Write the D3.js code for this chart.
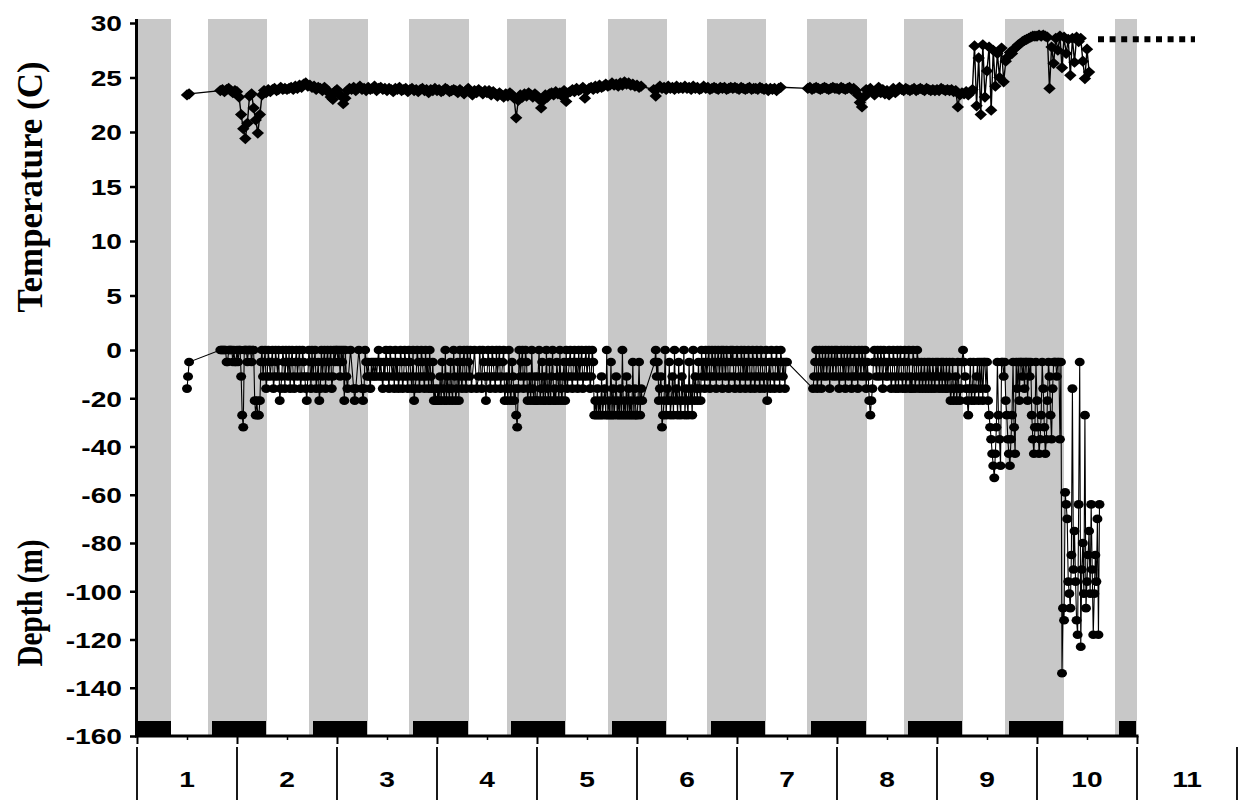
<!DOCTYPE html>
<html>
<head>
<meta charset="utf-8">
<script src="https://cdn.jsdelivr.net/npm/d3@7"></script>
<style>
  body { margin: 0; background: #fff; }
  svg { display: block; }
</style>
</head>
<body>
<svg id="chart" width="1239" height="802"></svg>
<script>
// Day labels under the time axis (day 11 sits past the end of the record)
const dayLabels = ["1", "2", "3", "4", "5", "6", "7", "8", "9", "10", "11"];

// Night periods (days from the start of day 1)
const nightStart = [0.00, 0.71, 1.72, 2.72, 3.70, 4.71, 5.70, 6.70, 7.67, 8.68, 9.78];
const nightEnd   = [0.34, 1.30, 2.31, 3.32, 4.29, 5.30, 6.29, 7.30, 8.26, 9.27, 10.00];

// Axis tick values
const tempTicks = [0, 5, 10, 15, 20, 25, 30];
const depthTicks = [-20, -40, -60, -80, -100, -120, -140, -160];

// Both records start at day 0.5; null = no sample stored
const recordStart = 0.5;
const tempStep = 1 / 48;   // temperature every 30 min
const depthStep = 1 / 96;  // depth every 15 min

// Water temperature (C), one row per half day
const temperature = [
  23.4,23.5,null,null,null,null,null,null,null,null,null,null,null,null,null,null,23.8,23.9,23.7,23.9,24.0,23.8,23.6,23.8,
  23.7,23.2,21.6,20.3,19.4,20.8,23.3,23.5,22.2,21.1,19.9,21.6,23.4,23.8,23.6,23.9,23.7,23.9,24.0,23.8,23.9,24.1,23.9,24.0,
  23.9,24.0,24.1,23.9,24.2,24.0,24.3,24.1,24.4,24.5,24.2,24.3,24.1,24.2,23.9,24.1,24.0,23.8,24.1,23.9,23.6,23.2,23.0,23.7,
  23.9,23.5,23.3,22.6,23.1,23.8,24.0,23.9,24.1,23.8,24.0,24.2,23.9,24.0,23.8,24.1,23.9,24.0,24.2,23.8,24.0,24.1,23.9,24.0,
  23.8,24.0,23.9,23.7,24.0,23.9,24.1,23.8,23.9,24.0,23.7,23.9,24.0,23.8,23.9,23.7,23.9,24.0,23.8,23.9,23.6,23.9,23.8,24.0,
  23.8,23.9,23.7,23.8,24.0,23.9,23.7,23.8,23.9,23.8,23.6,23.9,23.7,23.5,23.8,24.0,23.7,23.4,23.8,23.6,23.9,23.7,23.5,23.8,
  23.6,23.8,23.4,23.7,23.5,23.3,23.6,23.4,23.2,23.5,23.3,23.6,23.4,23.1,21.3,22.9,23.4,23.2,23.5,23.3,23.6,23.4,23.2,23.5,
  23.3,23.0,22.2,22.9,23.4,23.2,23.5,23.6,23.4,23.7,23.5,23.6,23.3,23.8,22.8,23.6,23.7,23.9,23.7,24.0,23.8,23.9,24.1,23.1,
  23.8,24.0,24.1,23.9,24.2,24.0,24.3,24.1,24.2,24.4,24.2,24.3,24.5,24.3,24.4,24.2,24.5,24.3,24.6,24.4,24.5,24.3,24.4,24.2,
  24.3,24.1,24.2,null,null,null,null,null,23.9,23.3,24.0,24.2,24.0,24.1,23.9,24.2,24.0,24.1,23.9,24.2,24.0,24.1,24.0,24.2,
  24.0,24.1,23.9,24.2,24.0,24.1,23.9,24.0,24.2,24.0,24.1,23.9,24.0,24.1,24.0,23.9,24.1,24.0,24.1,23.9,24.0,24.1,24.0,24.1,
  24.0,23.9,24.1,24.0,23.9,24.0,24.1,23.9,24.0,24.0,23.9,24.1,24.0,23.9,24.0,23.8,24.0,23.9,24.0,23.8,24.0,24.1,null,null,
  null,null,null,null,null,null,null,null,null,null,24.0,24.1,23.9,24.0,24.1,24.0,23.9,24.0,24.1,24.0,23.9,24.0,24.1,24.0,
  24.0,23.9,24.1,24.0,23.9,24.0,24.1,23.9,24.0,23.8,23.4,22.7,22.3,23.2,23.9,23.6,24.0,23.7,23.4,23.8,24.1,23.6,23.9,23.5,
  23.8,23.4,23.7,24.0,23.6,23.8,24.1,23.9,23.8,24.0,23.9,23.8,23.9,24.0,23.8,23.9,24.0,23.9,23.8,24.0,23.9,23.8,23.9,23.8,
  23.9,23.8,24.0,23.9,23.8,23.9,23.8,23.9,23.7,23.8,22.3,23.4,23.6,23.5,23.7,23.4,23.6,23.9,27.9,22.4,26.8,21.6,28.0,23.2,
  25.6,27.8,22.0,27.5,24.2,27.2,25.0,27.7,24.6,26.5,26.9,27.3,27.2,27.6,27.8,28.0,28.1,28.3,28.4,28.5,28.6,28.7,28.8,28.8,
  28.8,28.9,28.8,28.9,28.8,28.7,24.0,27.8,26.3,28.6,27.5,28.8,25.9,28.7,27.2,28.5,25.2,28.6,26.4,28.7,28.3,28.6,26.5,24.9,
  27.6,25.5
];

// Swimming depth (m), one row per half day (four 3-hour blocks each)
const depth = [
  -16,-11,-5,null,null,null,null,null,null,null,null,null,  null,null,null,null,null,null,null,null,null,null,null,null,
  null,null,null,null,null,null,null,null,0,0,0,0,  0,0,-5,-5,0,0,0,0,-5,0,-5,-5,
  0,-5,0,0,-11,-27,-32,0,0,0,-5,0,  0,0,-5,0,0,-21,-27,-21,-27,-27,-21,-5,
  0,-11,-5,0,-16,-11,0,-5,-11,-5,0,-16,  -11,0,-5,-11,0,-21,-16,-11,0,-5,-16,0,
  -5,-11,0,-16,-5,0,-11,-16,-5,0,-11,-5,  0,-16,-11,0,-5,-11,-16,-21,-11,0,-5,-16,
  0,-11,-5,0,-16,-11,-5,-21,-16,0,-11,-5,  0,-16,-5,0,-11,-5,0,-16,-11,0,-5,0,
  0,-5,0,-11,0,-5,0,-21,0,-11,-16,null,  null,0,null,null,-16,-21,-16,null,null,0,null,null,
  -16,-21,-16,0,-5,-11,-5,-11,-16,-5,-11,-5,  -11,-5,-11,-5,0,-11,-5,-11,-16,-5,-11,0,
  -5,-11,-16,0,-5,-11,-5,-16,0,-11,-5,-16,  -11,0,-5,-16,-11,0,-5,-11,-16,0,-5,-11,
  -16,0,-21,-16,-11,0,-5,-16,-11,0,-5,-11,  -16,0,-11,-5,-16,0,-11,-16,-5,-21,-16,-21,
  -21,-16,-21,-11,-21,-5,-16,-21,0,-21,-11,-16,  -21,-5,-16,-21,0,-11,-21,-16,-5,-21,0,-11,
  -16,-5,0,-11,-16,0,-5,-11,0,-16,null,null,  0,null,-16,null,-11,0,null,-16,0,-5,-11,-21,
  -11,0,-5,-16,-11,0,-5,-11,-16,0,-11,-5,  0,-16,-11,-5,0,-21,-16,-11,-21,0,-16,-21,
  -5,-11,-21,-16,-27,-32,-16,0,-11,-5,0,-16,  -11,0,-5,-21,-16,-11,-21,0,-16,-21,-11,-21,
  -21,-11,0,-21,-16,-5,-21,-11,-21,0,-16,-21,  -5,-21,-11,0,-21,-16,-21,-5,-11,-21,0,-16,
  -21,-11,-5,-21,0,-16,-11,-5,0,-11,-16,-5,  0,-11,-5,-16,0,-11,-5,0,-16,-11,-5,0,
  -11,-5,0,-16,-11,0,-5,-27,-21,-27,-16,-27,  -21,-27,-11,-27,-21,-16,-27,0,-27,-21,-27,-5,
  -27,-16,-27,-21,-11,-27,-21,-27,-16,-27,0,-27,  -21,-27,-11,-27,-16,-27,-21,-27,-5,-27,-16,-27,
  -27,-21,-5,-27,-16,-21,null,null,null,null,null,null,  null,null,null,null,null,-5,0,-11,-5,-21,-16,-11,
  -32,-27,-21,0,-27,-16,-21,-5,-27,-21,-11,-27,  0,-21,-16,-27,-5,-21,-27,-11,-21,0,-27,-16,
  -21,-27,-5,-21,-16,-27,0,-21,-11,-16,-21,-5,  -16,-21,0,-11,-5,-16,0,-11,-5,0,-16,-11,
  0,-5,-11,0,-16,-5,0,-11,-5,0,-16,0,  -5,-11,0,-5,-16,-11,0,-5,0,-11,-16,-5,
  0,-5,-11,-16,0,-5,-11,0,-16,-5,-11,0,  -5,-16,-11,0,-5,-16,-11,0,-5,-11,-16,0,
  -5,-11,-16,-5,0,-21,-11,-5,-16,0,-5,-11,  -16,-5,0,-11,-5,-16,0,-5,-11,-5,-16,-5,
  -5,null,null,null,null,null,null,null,null,null,null,null,  null,null,null,null,null,null,null,null,null,null,null,null,
  null,-16,-11,-5,0,-16,-11,0,-5,-16,0,-11,  -5,0,-11,-5,0,-16,-5,0,-11,-5,0,-11,
  0,-5,-16,-11,0,-5,-11,0,-16,-5,0,-11,  -5,0,-16,-11,-5,0,-11,-5,-16,0,-5,-11,
  0,-5,-11,0,-16,-5,-11,-21,-27,-21,-16,-5,  0,-5,-11,0,-5,-11,0,-5,-16,0,-5,-11,
  -5,-11,0,-5,-16,-11,0,-5,-16,-11,0,-16,  -5,0,-11,-16,-5,0,-16,-11,-5,0,-16,-11,
  -16,0,-5,-16,-11,0,-5,-16,-11,-5,-16,-11,  -5,-16,-11,-5,-16,-5,-11,-16,-5,-11,-16,-5,
  -11,-5,-16,-11,-5,-16,-5,-11,-16,-5,-16,-11,  -5,-21,-16,-5,-21,-16,-11,-21,-5,-16,-21,-16,
  -5,0,-5,-11,-16,-21,-27,-16,-5,-21,-16,-5,  -21,-16,-11,-5,-21,-5,-16,-5,-21,-5,-5,-16,
  -5,-21,-27,-32,-37,-43,-48,-53,-43,-32,-5,-27,  -37,-48,-5,-5,-11,-5,-21,-27,-37,-43,-48,-37,
  -27,-5,-32,-43,-5,-16,-5,-21,-5,-5,-11,-5,  -16,-5,-5,-21,-5,-11,-5,-27,-37,-43,-32,-5,
  -21,-32,-43,-37,-27,-5,-16,-32,-43,-37,-21,-5,  -11,-27,-37,-16,-5,-5,-5,-11,-5,-5,-37,-5,
  -134,-107,-112,-59,-64,-70,-96,-101,-107,-85,-16,-91,  -75,-96,-112,-118,-64,-5,-123,-91,-80,-101,-27,-107,
  -96,-85,-75,-101,-64,-91,-118,-101,-85,-96,-70,-118,-64
];

// Surface temperature reference (dotted line)
const surfaceTempDays = [9.61, 10.58];
const surfaceTemp = 28.5;

const svg = d3.select("#chart");
const plotTop = 19, plotBottom = 736;

const x  = d3.scaleLinear().domain([0, 10]).range([137, 1137]);
const yT = d3.scaleLinear().domain([0, 30]).range([350, 23]);
const yD = d3.scaleLinear().domain([-160, 0]).range([736, 350]);

const labelFont = "'Liberation Sans', Arial, sans-serif";
const titleFont = "'Liberation Serif', 'Times New Roman', serif";

// Night shading
svg.append("g").selectAll("rect")
  .data(d3.range(nightStart.length))
  .join("rect")
  .attr("x", i => x(nightStart[i]))
  .attr("width", i => x(nightEnd[i]) - x(nightStart[i]))
  .attr("y", plotTop)
  .attr("height", plotBottom - plotTop)
  .attr("fill", "#c8c8c8");

// Dark bars along the time axis
svg.append("g").selectAll("rect")
  .data(d3.range(nightStart.length))
  .join("rect")
  .attr("x", i => x(nightStart[i]) + (i === 0 ? 0 : 4))
  .attr("width", i => x(nightEnd[i]) - x(nightStart[i]) - (i === 0 ? 0 : 5))
  .attr("y", 721)
  .attr("height", plotBottom - 721)
  .attr("fill", "#000");

// Surface temperature dotted line
svg.append("line")
  .attr("x1", x(surfaceTempDays[0])).attr("x2", x(surfaceTempDays[1]))
  .attr("y1", yT(surfaceTemp)).attr("y2", yT(surfaceTemp))
  .attr("stroke", "#000").attr("stroke-width", 6)
  .attr("stroke-dasharray", "6 5.6");

// Sample lists on each record's time grid
const tempPts = temperature
  .map((v, i) => ({ t: recordStart + i * tempStep, v }))
  .filter(d => d.v !== null);
const depthPts = depth
  .map((v, i) => ({ t: recordStart + i * depthStep, v }))
  .filter(d => d.v !== null);

// Depth trace
svg.append("path")
  .datum(depthPts)
  .attr("fill", "none").attr("stroke", "#000").attr("stroke-width", 1.1)
  .attr("d", d3.line().x(d => x(d.t)).y(d => yD(d.v)));
svg.append("g").selectAll("ellipse")
  .data(depthPts)
  .join("ellipse")
  .attr("cx", d => x(d.t)).attr("cy", d => yD(d.v))
  .attr("rx", 5).attr("ry", 4.3)
  .attr("fill", "#000");

// Temperature trace
svg.append("path")
  .datum(tempPts)
  .attr("fill", "none").attr("stroke", "#000").attr("stroke-width", 1.4)
  .attr("d", d3.line().x(d => x(d.t)).y(d => yT(d.v)));
svg.append("g").selectAll("path")
  .data(tempPts)
  .join("path")
  .attr("transform", d => `translate(${x(d.t)},${yT(d.v)})`)
  .attr("d", "M0,-5.6L6.2,0L0,5.6L-6.2,0Z")
  .attr("fill", "#000");

// Vertical axis: temperature part above, depth part below
function styleLeftAxis(g) {
  g.select(".domain").remove();
  g.selectAll(".tick line").attr("stroke", "#000").attr("stroke-width", 2.5);
  g.selectAll(".tick text")
    .attr("x", null).attr("dy", "0.36em")
    .attr("text-anchor", "end")
    .attr("transform", "translate(-14,0) scale(1.28,1)")
    .attr("fill", "#000")
    .style("font-family", labelFont).style("font-weight", "bold").style("font-size", "22px");
}
svg.append("g").attr("transform", "translate(136,0)")
  .call(d3.axisLeft(yT).tickValues(tempTicks).tickSize(6).tickFormat(d => String(d)))
  .call(styleLeftAxis);
svg.append("g").attr("transform", "translate(136,0)")
  .call(d3.axisLeft(yD).tickValues(depthTicks).tickSize(6).tickFormat(d => String(d)))
  .call(styleLeftAxis);
svg.append("line")
  .attr("x1", 136.5).attr("x2", 136.5).attr("y1", plotTop).attr("y2", plotBottom + 1.5)
  .attr("stroke", "#000").attr("stroke-width", 3);

// Time axis with day boundaries and midday ticks
const xAxisG = svg.append("g").attr("transform", `translate(0,${plotBottom})`);
xAxisG.append("g")
  .call(d3.axisBottom(x).tickValues(d3.range(0, 11)).tickSize(8).tickFormat(""))
  .call(g => g.select(".domain").remove())
  .call(g => g.selectAll(".tick line").attr("stroke", "#000").attr("stroke-width", 2));
xAxisG.append("g")
  .call(d3.axisBottom(x).tickValues(d3.range(0.5, 10, 1)).tickSize(4).tickFormat(""))
  .call(g => g.select(".domain").remove())
  .call(g => g.selectAll(".tick line").attr("stroke", "#000").attr("stroke-width", 1.5));
svg.append("line")
  .attr("x1", 135).attr("x2", x(10) + 1.5).attr("y1", plotBottom).attr("y2", plotBottom)
  .attr("stroke", "#000").attr("stroke-width", 3);

// Day separators and labels
svg.append("g").selectAll("line")
  .data(d3.range(0, dayLabels.length + 1))
  .join("line")
  .attr("x1", d => x(d)).attr("x2", d => x(d))
  .attr("y1", 747).attr("y2", 800)
  .attr("stroke", "#000").attr("stroke-width", 1.8);
svg.append("g").selectAll("text")
  .data(dayLabels)
  .join("text")
  .attr("transform", (d, i) => `translate(${x(i + 0.5)},787) scale(1.28,1)`)
  .attr("text-anchor", "middle")
  .style("font-family", labelFont).style("font-weight", "bold").style("font-size", "22px")
  .text(d => d);

// Axis titles
svg.append("text")
  .attr("transform", "translate(42,187) rotate(-90) scale(1,1.3)")
  .attr("text-anchor", "middle")
  .attr("textLength", 251).attr("lengthAdjust", "spacingAndGlyphs")
  .style("font-family", titleFont).style("font-weight", "bold").style("font-size", "28px")
  .text("Temperature (C)");
svg.append("text")
  .attr("transform", "translate(42,603) rotate(-90) scale(1,1.3)")
  .attr("text-anchor", "middle")
  .attr("textLength", 127).attr("lengthAdjust", "spacingAndGlyphs")
  .style("font-family", titleFont).style("font-weight", "bold").style("font-size", "28px")
  .text("Depth (m)");
</script>
</body>
</html>
